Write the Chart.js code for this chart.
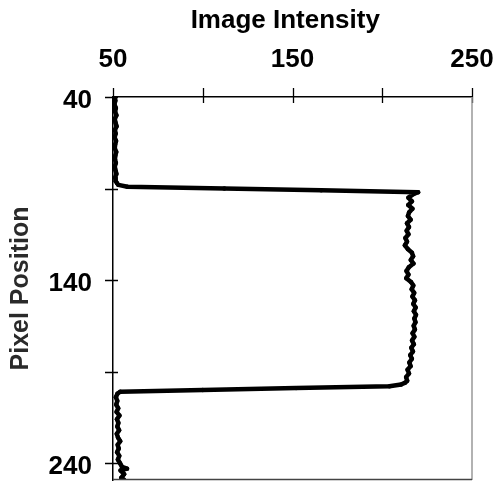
<!DOCTYPE html>
<html>
<head>
<meta charset="utf-8">
<script src="https://cdn.jsdelivr.net/npm/chart.js@4.4.1/dist/chart.umd.min.js"></script>
<style>
	body { margin: 0; background: #fff; }
	canvas { display: block; }
</style>
</head>
<body>
<canvas id="profile-chart" width="500" height="484"></canvas>
<script>
/* profile data: pixel position (y) vs image intensity (x) */
var positions = [
	40, 42, 44, 46, 48, 50, 52, 54, 56, 58, 60, 62, 64, 66, 68, 70, 72, 74, 76, 78, 80, 82, 84, 86,
	87, 88, 89, 90, 91, 92,
	93, 95, 97, 99, 101, 103, 105, 107, 109, 111, 113, 115, 117, 119, 121, 123, 125, 127, 129, 131,
	133, 135, 137, 139, 141, 143, 145, 147, 149, 151, 153, 155, 157, 159, 161, 163, 165, 167, 169, 171,
	173, 175, 177, 179, 181, 183, 185, 187, 189, 191, 193, 195, 196, 197,
	198, 199, 200, 201,
	202, 204, 206, 208, 210, 212, 214, 216, 218, 220, 222, 224, 226, 228, 230, 232, 234, 236, 238, 240,
	242, 243, 244, 246, 248, 249
];
var intensities = [
	51.0, 51.3, 50.8, 51.6, 51.2, 51.9, 51.0, 51.4, 52.0, 51.1, 51.5, 50.9, 51.7, 51.2, 51.0, 51.8, 51.3, 51.1, 51.6, 51.0, 51.4, 51.9, 51.2, 51.5,
	52.2, 53.0, 58.0, 112.0, 166.0, 220.0,
	217.5, 214.6, 216.5, 214.5, 216.8, 215.0, 214.3, 215.8, 213.8, 214.9, 213.6, 214.6, 212.9, 213.8, 212.6, 214.2, 216.5, 217.2, 215.9, 217.4,
	214.8, 213.5, 214.6, 213.4, 216.0, 217.3, 216.4, 217.8, 216.8, 218.2, 217.3, 218.6, 217.6, 218.8, 217.9, 218.5, 217.5, 218.2, 216.9, 217.9,
	216.6, 217.6, 216.2, 217.1, 215.6, 216.5, 215.1, 215.8, 214.1, 214.9, 213.3, 213.9, 212.8, 210.5,
	204.0, 152.0, 100.0, 54.0,
	52.5, 51.6, 52.4, 51.8, 52.9, 52.0, 53.6, 52.2, 53.0, 52.4, 53.4, 52.1, 52.8, 54.0, 52.6, 53.2, 52.3, 53.5, 52.7, 53.9,
	55.0, 57.8, 54.2, 56.2, 54.6, 56.0
];
var xTicks = [50, 100, 150, 200, 250];
var xLabels = [50, 150, 250];
var yTicks = [40, 90, 140, 190, 240];
var yLabels = [40, 140, 240];

var FONT = "'Liberation Sans', Arial, sans-serif";

var points = [];
for (var i = 0; i < positions.length; i++) {
	points.push({x: intensities[i], y: positions[i]});
}

/* crossing tick marks + right/bottom frame */
var frame_plugin = {
	id: 'frame',
	afterDraw: function (chart) {
		var ctx = chart.ctx;
		var a = chart.chartArea;
		var sx = chart.scales.x;
		var sy = chart.scales.y;
		ctx.save();
		ctx.lineWidth = 1.3;
		ctx.strokeStyle = '#000';
		ctx.beginPath();
		xTicks.forEach(function (v) {
			var px = Math.round(sx.getPixelForValue(v)) + 0.5;
			ctx.moveTo(px, a.top - 9);
			ctx.lineTo(px, a.top + 6);
		});
		yTicks.forEach(function (v) {
			var py = Math.round(sy.getPixelForValue(v)) + 0.5;
			ctx.moveTo(a.left - 8, py);
			ctx.lineTo(a.left + 5, py);
		});
		ctx.stroke();

		ctx.lineWidth = 1.5;
		ctx.strokeStyle = '#999';
		ctx.beginPath();
		ctx.moveTo(a.right, a.top);
		ctx.lineTo(a.right, a.bottom);
		ctx.stroke();
		ctx.strokeStyle = '#444';
		ctx.beginPath();
		ctx.moveTo(a.left, a.bottom - 0.5);
		ctx.lineTo(a.right, a.bottom - 0.5);
		ctx.stroke();
		ctx.restore();
	}
};

var ctx_profile = document.getElementById('profile-chart').getContext('2d');
new Chart(ctx_profile, {
	type: 'scatter',
	data: {
		datasets: [{
			data: points,
			showLine: true,
			borderColor: '#000',
			backgroundColor: '#000',
			borderWidth: 4.5,
			borderJoinStyle: 'round',
			borderCapStyle: 'round',
			pointRadius: 2.2,
			pointBorderWidth: 0,
			tension: 0
		}]
	},
	options: {
		responsive: false,
		animation: false,
		layout: {
			padding: {left: 0, top: 0, right: 28, bottom: 2}
		},
		plugins: {
			legend: {display: false},
			tooltip: {enabled: false}
		},
		scales: {
			x: {
				type: 'linear',
				position: 'top',
				min: 50,
				max: 250,
				afterFit: function (scale) {
					scale.height = 97;
					scale.paddingLeft = 0;
					scale.paddingRight = 0;
				},
				afterBuildTicks: function (scale) {
					scale.ticks = xTicks.map(function (v) { return {value: v}; });
				},
				ticks: {
					autoSkip: false,
					maxRotation: 0,
					padding: 22,
					color: '#000',
					font: {family: FONT, size: 26, weight: 'bold'},
					callback: function (v) { return xLabels.indexOf(v) >= 0 ? String(v) : ''; }
				},
				grid: {display: false, drawTicks: false},
				border: {display: true, color: '#000', width: 1.5},
				title: {
					display: true,
					text: 'Image Intensity  ',
					color: '#000',
					font: {family: FONT, size: 26, weight: 'bold'},
					padding: {top: 5, bottom: 0}
				}
			},
			y: {
				type: 'linear',
				reverse: true,
				min: 40,
				max: 249.2,
				afterFit: function (scale) {
					scale.width = 113;
					scale.paddingTop = 0;
					scale.paddingBottom = 0;
				},
				afterBuildTicks: function (scale) {
					scale.ticks = yTicks.map(function (v) { return {value: v}; });
				},
				ticks: {
					autoSkip: false,
					padding: 21,
					labelOffset: 4,
					color: '#000',
					font: {family: FONT, size: 26, weight: 'bold'},
					callback: function (v) { return yLabels.indexOf(v) >= 0 ? String(v) : ''; }
				},
				grid: {display: false, drawTicks: false},
				border: {display: true, color: '#000', width: 1.5},
				title: {
					display: true,
					text: 'Pixel Position',
					color: '#2a2a2a',
					font: {family: FONT, size: 25, weight: 'bold'},
					padding: {top: 6, bottom: 0}
				}
			}
		}
	},
	plugins: [frame_plugin]
});
</script>
</body>
</html>
